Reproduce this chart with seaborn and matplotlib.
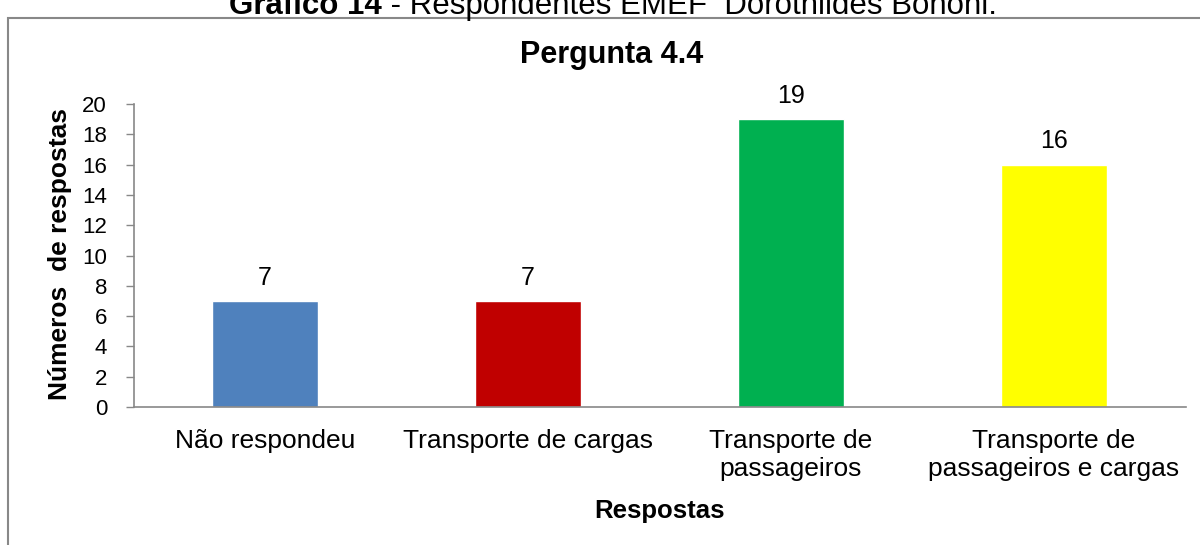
import matplotlib
matplotlib.use("Agg")
import matplotlib.pyplot as plt
import seaborn as sns
import pandas as pd
from matplotlib.patches import Rectangle

# Pergunta 4.4 - respostas
respostas = ["Não respondeu", "Transporte de cargas",
             "Transporte de\npassageiros", "Transporte de\npassageiros e cargas"]
contagem = [7, 7, 19, 16]
cores = ["#4F81BD", "#C00000", "#00B050", "#FFFF00"]

df = pd.DataFrame({"resposta": respostas, "n": contagem})

sns.set_style("white")
plt.rcParams['font.family'] = ['Liberation Sans', 'DejaVu Sans']
plt.rcParams['text.color'] = 'black'
plt.rcParams['xtick.labelcolor'] = 'black'
plt.rcParams['ytick.labelcolor'] = 'black'

fig = plt.figure(figsize=(12, 5.45), dpi=100)
ax = fig.add_axes([133.5 / 1200, 1 - 407 / 545, 1052 / 1200, 303 / 545])

sns.barplot(data=df, x="resposta", y="n", hue="resposta", palette=cores,
            width=0.4, saturation=1, legend=False, ax=ax)

# rótulos de valor
for i, v in enumerate(contagem):
    ax.annotate(str(v), (i, v), xytext=(0, 8), textcoords="offset points",
                ha="center", va="bottom", fontsize=18, color="black")

ax.set_ylim(0, 20)
ax.set_xlim(-0.5, 3.5)
ax.set_yticks(range(0, 21, 2))
ax.tick_params(axis="y", labelsize=16, length=6, width=1, color="#888888",
               labelcolor="black", direction="out", left=True, pad=13)
ax.tick_params(axis="x", labelsize=19, length=0, pad=16, labelcolor="black")
for lbl in ax.get_xticklabels():
    lbl.set_linespacing(1.2)
for s in ["top", "right"]:
    ax.spines[s].set_visible(False)
for s in ["left", "bottom"]:
    ax.spines[s].set_color("#888888")
    ax.spines[s].set_linewidth(1.2)

ax.set_xlabel("")
ax.set_ylabel("")
fig.text(60 / 1200, 1 - 254 / 545, "Números  de respostas", rotation=90,
         ha="center", va="center", fontsize=19, fontweight="bold", color="black")
fig.text(660 / 1200, 1 - 511 / 545, "Respostas", ha="center", va="center",
         fontsize=18.5, fontweight="bold", color="black")
fig.text(612 / 1200, 1 - 55 / 545, "Pergunta 4.4", ha="center", va="center",
         fontsize=22, fontweight="bold", color="black")

# legenda do gráfico, cortada no topo
fig.text(382 / 1200, 1 - 14 / 545, "Gráfico 14", ha="right", va="baseline",
         fontsize=22.5, fontweight="bold", color="black")
fig.text(382 / 1200, 1 - 14 / 545, " - Respondentes EMEF  Dorothildes Bononi.",
         ha="left", va="baseline", fontsize=22.5, color="black")

frame = Rectangle((8 / 1200, -0.1), 1.2, 1 - 18 / 545 + 0.1, transform=fig.transFigure,
                  fill=False, edgecolor="#888888", linewidth=1.5)
fig.patches.append(frame)

fig.savefig("out.png", dpi=100)
